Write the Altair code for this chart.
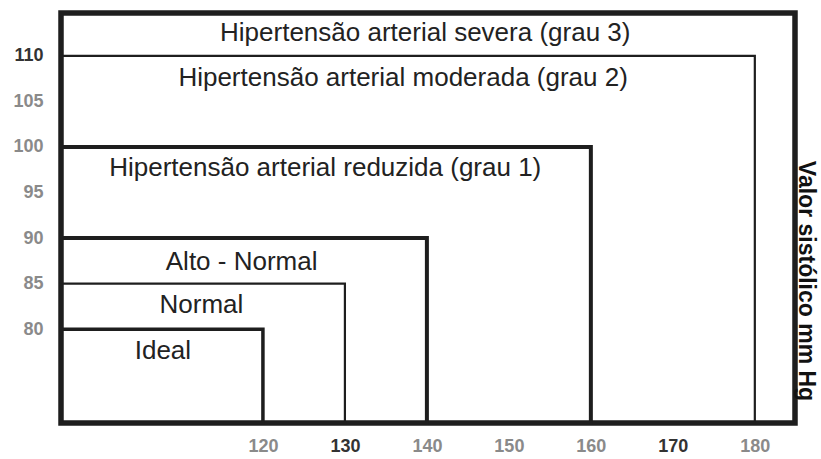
import altair as alt
import pandas as pd

# Category boxes (nested, anchored at the lower-left corner)
categories = [
    "Hipertensão arterial severa (grau 3)",
    "Hipertensão arterial moderada (grau 2)",
    "Hipertensão arterial reduzida (grau 1)",
    "Alto - Normal",
    "Normal",
    "Ideal",
]
x_right = [184.9, 180, 160, 140, 130, 120]     # systolic upper limit
y_top = [114.7, 110, 100, 90, 85, 80]          # diastolic upper limit
line_w = [5.5, 2.2, 4, 4, 2.2, 3.5]

# Label anchors (data units)
label_x = [139.8, 137.1, 127.6, 117.4, 112.5, 107.8]
label_y = [112.5, 107.6, 97.7, 87.35, 82.7, 77.6]

x_ticks = [120, 130, 140, 150, 160, 170, 180]
y_ticks = [80, 85, 90, 95, 100, 105, 110]

X_MIN, X_MAX = 95.37, 184.9
Y_MIN, Y_MAX = 69.7, 114.7

df = pd.DataFrame({
    "cat": categories,
    "x0": [X_MIN] * len(categories),
    "x1": x_right,
    "y0": [Y_MIN] * len(categories),
    "y1": y_top,
    "w": line_w,
    "lx": label_x,
    "ly": label_y,
})

xs = alt.Scale(domain=[X_MIN, X_MAX], nice=False, zero=False)
ys = alt.Scale(domain=[Y_MIN, Y_MAX], nice=False, zero=False)

x_axis = alt.Axis(
    values=x_ticks, domain=False, ticks=False, grid=False, title=None,
    labelFont="Liberation Sans", labelFontSize=18, labelFontWeight="bold",
    labelColor={"condition": {"test": "datum.value == 130 || datum.value == 170", "value": "#333333"}, "value": "#8a8a8a"},
    labelPadding=14,
)
y_axis = alt.Axis(
    values=y_ticks, domain=False, ticks=False, grid=False, title=None,
    labelFont="Liberation Sans", labelFontSize=18, labelFontWeight="bold",
    labelColor={"condition": {"test": "datum.value == 110", "value": "#333333"}, "value": "#8a8a8a"},
    labelPadding=18,
)

boxes = alt.Chart(df).mark_rect(fill="white", fillOpacity=0, stroke="#1e1e1e").encode(
    x=alt.X("x0:Q", scale=xs, axis=x_axis),
    x2="x1:Q",
    y=alt.Y("y0:Q", scale=ys, axis=y_axis),
    y2="y1:Q",
    strokeWidth=alt.StrokeWidth("w:Q", scale=None, legend=None),
)

labels = alt.Chart(df).mark_text(
    font="Liberation Sans", fontSize=26, color="#222222", align="center", baseline="middle"
).encode(
    x=alt.X("lx:Q", scale=xs),
    y=alt.Y("ly:Q", scale=ys),
    text="cat:N",
)

side_title = alt.Chart(pd.DataFrame({"t": ["Valor sistólico mm Hg"]})).mark_text(
    font="Liberation Sans", fontSize=23, fontWeight="bold", color="#111111",
    angle=90, align="center", baseline="middle"
).encode(
    x=alt.value(745),
    y=alt.value(268),
    text="t:N",
)

chart = alt.layer(boxes, labels, side_title).properties(
    width=734, height=410,
    autosize=alt.AutoSizeParams(type="none"),
    padding={"left": 61, "top": 13, "right": 26, "bottom": 36},
    background="white",
).configure_view(stroke=None)

chart.save("out.html", embed_options={"renderer": "svg", "actions": False})
